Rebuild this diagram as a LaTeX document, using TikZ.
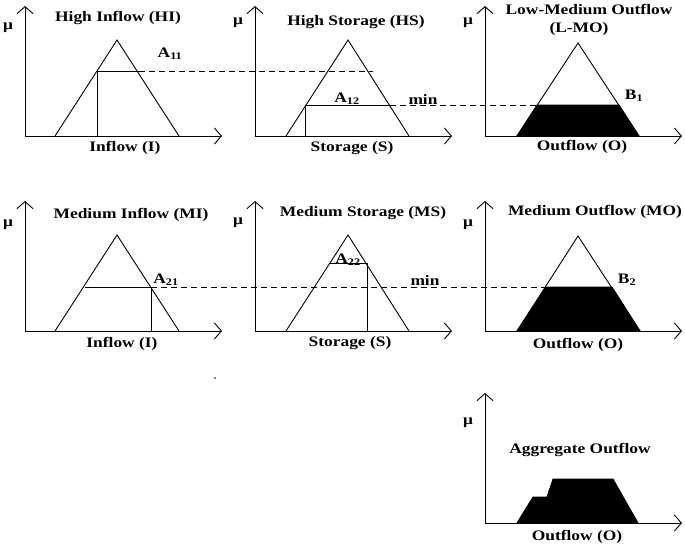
\documentclass[tikz,border=0pt]{standalone}
\usepackage{fontspec}
\setmainfont{Liberation Serif}[FakeStretch=1.2]
\usetikzlibrary{arrows.meta, calc, positioning}
\tikzset{
	axes/.style={-{Straight Barb[length=7pt,width=16pt]}, line width=0.9pt},
	memb/.style={line width=0.9pt},
	cut/.style={line width=0.9pt},
	rule/.style={line width=0.9pt, dash pattern=on 6pt off 4pt},
	fired/.style={fill=black, draw=black, line width=0.9pt}
}
\newcommand{\sub}[2]{#1\textsubscript{#2}}

\begin{document}
\begin{tikzpicture}[
	x=1pt, y=-1pt,
	lbl/.style={font=\fontsize{14.5}{16}\selectfont\bfseries, inner sep=0pt},
	node distance=8pt]
	\useasboundingbox (0,0) rectangle (685,547);
	% axes and mu labels
	\foreach \n/\ox/\oy/\my in {1/25/136/28, 2/255/136/23, 3/485/136/23, 4/25/331/225, 5/255/331/223, 6/485/331/225, 7/485/523/423} {
		\coordinate (o\n) at (\ox,\oy);
		\coordinate (top\n) at (\ox,\oy-130);
		\coordinate (end\n) at (\ox+197,\oy);
		\draw[axes] (o\n) -- (top\n);
		\draw[axes] (o\n) -- (end\n);
		\node[lbl] (mu\n) at (\ox-17,\my) {μ};
	}
	% rule 1
	\draw[memb] (55,136) -- (117,40) -- (179,136);
	\coordinate (A11) at (139,71);
	\draw[cut] (97,136) -- (97,71) -- (A11);
	\draw[memb] (286,136) -- (348,40) -- (409,136);
	\coordinate (A12) at (390,105);
	\draw[cut] (305,136) -- (305,105) -- (A12);
	\coordinate (B1) at (537,105);
	\draw[fired] (517,136) -- (B1) -- (619,105) -- (639,136) -- cycle;
	\draw[memb] (517,136) -- (578,43) -- (639,136);
	\draw[rule] (A11) -- (373,71);
	\draw[rule] (A12) -- (B1);
	% rule 2
	\draw[memb] (55,331) -- (117,235) -- (179,331);
	\coordinate (A21) at (151,287);
	\draw[cut] (85,287) -- (A21) -- (151,331);
	\draw[memb] (286,331) -- (348,235) -- (409,331);
	\coordinate (A22) at (367,263);
	\draw[cut] (330,263) -- (A22) -- (367,331);
	\coordinate (B2) at (546,287);
	\draw[fired] (517,331) -- (B2) -- (612,287) -- (640,331) -- cycle;
	\draw[memb] (517,331) -- (578,236) -- (640,331);
	\draw[rule] (A21) -- (B2);
	% aggregate
	\draw[fired] (517,523) -- (533,497) -- (547,497) -- (553,479) -- (613,479) -- (638,523) -- cycle;
	\fill (215,378) circle (0.8pt);
	% titles
	\node[lbl] (tHI) at (118,18) {High Inflow (HI)};
	\node[lbl] (tHS) at (356,22) {High Storage (HS)};
	\node[lbl] (tLMO) at (589,9) {Low-Medium Outflow};
	\node[lbl, below=8pt of tLMO.south, xshift=-10pt] (tLMO2) {(L-MO)};
	\node[lbl] (tMI) at (131,215) {Medium Inflow (MI)};
	\node[lbl] (tMS) at (363,213) {Medium Storage (MS)};
	\node[lbl] (tMO) at (595,212) {Medium Outflow (MO)};
	\node[lbl] (tAO) at (580,450) {Aggregate Outflow};
	% axis names
	\node[lbl] (xI1) at (125,148) {Inflow (I)};
	\node[lbl] (xS1) at (352,148) {Storage (S)};
	\node[lbl] (xO1) at (582,147) {Outflow (O)};
	\node[lbl] (xI2) at (122,344) {Inflow (I)};
	\node[lbl] (xS2) at (350,343) {Storage (S)};
	\node[lbl] (xO2) at (578,345) {Outflow (O)};
	\node[lbl] (xO3) at (577,537) {Outflow (O)};
	% degrees
	\node[lbl] (lA11) at (170,54) {\sub{A}{11}};
	\node[lbl] (lA12) at (347,99) {\sub{A}{12}};
	\node[lbl] (lmin1) at (423,99) {min};
	\node[lbl] (lB1) at (634,96) {\sub{B}{1}};
	\node[lbl] (lA21) at (166,280) {\sub{A}{21}};
	\node[lbl] (lA22) at (348,260) {\sub{A}{22}};
	\node[lbl] (lmin2) at (425,280) {min};
	\node[lbl] (lB2) at (627,280) {\sub{B}{2}};
\end{tikzpicture}
\end{document}
